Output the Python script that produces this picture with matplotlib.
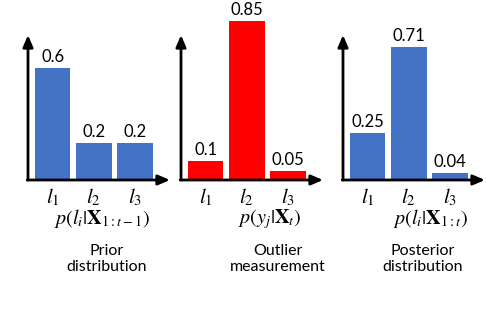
#!/usr/bin/env python3

import matplotlib.pyplot as plt

# values
labels = ["$l_1$", "$l_2$", "$l_3$"]
prior = [0.6, 0.2, 0.2]
outlier = [0.1, 0.85, 0.05]
posterior = [0.25, 0.71, 0.04]

formulas = [r"$p(l_i|\mathbf{X}_{1:t-1})$",
            r"$p\left(y_j|\mathbf{X}_t\right)$",
            r"$p(l_i|\mathbf{X}_{1:t})$"]
captions = ["Prior\ndistribution", "Outlier\nmeasurement", "Posterior\ndistribution"]

BLUE = "#4472C4"
RED = "#FF0000"

W, H = 486, 326
plt.rcParams["mathtext.fontset"] = "stix"


def px_axes(fig, left, right, top, bottom):
    "Add an axes given pixel edges measured from the top-left corner."
    return fig.add_axes([left / W, 1 - bottom / H, (right - left) / W, (bottom - top) / H])


def main():
    fig = plt.figure(figsize=(W / 100, H / 100), dpi=100)

    baseline = 180      # pixel row of the x axis
    unit = 187          # pixels per probability unit
    panels = [
        (28, prior, BLUE, 102, 107),
        (181, outlier, RED, 270, 278),
        (343, posterior, BLUE, 431, 423),
    ]

    for i, (left, vals, color, fx, cx) in enumerate(panels):
        ax = px_axes(fig, left, left + 142, 0, baseline)
        ax.set_xlim(-0.6, 2.86)
        ax.set_ylim(0, baseline / unit)
        ax.axis("off")

        xs = range(len(vals))
        bars = ax.bar(xs, vals, width=0.87, color=color, clip_on=False)
        for b, v in zip(bars, vals):
            ax.text(b.get_x() + b.get_width() / 2, v + 0.015, f"{v:g}",
                    ha="center", va="bottom", fontsize=12, family="Lato")

        # axes with arrows
        top = (baseline - 35) / unit
        ax.annotate("", xy=(-0.6, top), xytext=(-0.6, 0),
                    arrowprops=dict(arrowstyle="-|>,head_width=0.3,head_length=0.7",
                                    lw=2, color="black", shrinkA=0, shrinkB=0))
        ax.annotate("", xy=(2.86, 0), xytext=(-0.62, 0),
                    arrowprops=dict(arrowstyle="-|>,head_width=0.3,head_length=0.7",
                                    lw=2, color="black", shrinkA=0, shrinkB=0))

        for x, lab in zip(xs, labels):
            ax.text(x, -0.035, lab, ha="center", va="top", fontsize=15)

        fig.text(fx / W, 1 - 219 / H, formulas[i], ha="center", va="center", fontsize=14.5)
        fig.text(cx / W, 1 - 259 / H, captions[i], ha="center", va="center",
                 fontsize=11.5, family="Lato", linespacing=1.25)

    fig.savefig("out.png", dpi=100)


if __name__ == "__main__":
    main()
